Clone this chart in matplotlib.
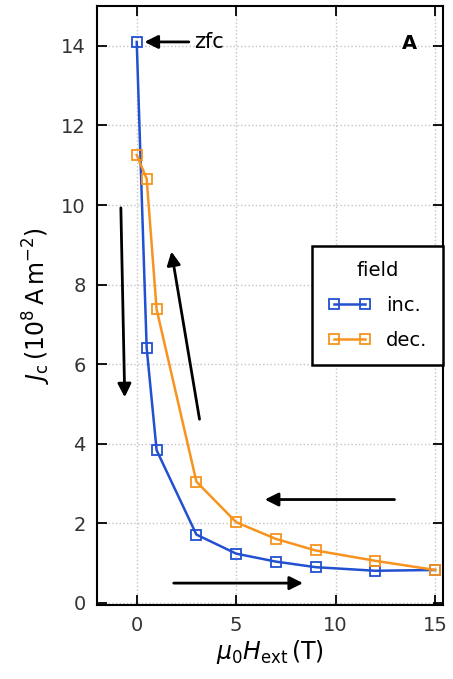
import matplotlib
matplotlib.use("Agg")
import matplotlib.pyplot as plt

# field values (T)
field_inc = [0, 0.5, 1, 3, 5, 7, 9, 12, 15]
jc_inc = [14.1, 6.41, 3.84, 1.72, 1.24, 1.04, 0.90, 0.81, 0.83]
field_dec = [15, 12, 9, 7, 5, 3, 1, 0.5, 0]
jc_dec = [0.83, 1.06, 1.32, 1.61, 2.03, 3.05, 7.38, 10.66, 11.26]

blue = '#2150d0'
orange = '#f7931e'

plt.rcParams['font.family'] = ['DejaVu Sans']
plt.rcParams['mathtext.fontset'] = 'dejavusans'

fig = plt.figure(figsize=(4.53, 6.79), dpi=100)
ax = fig.add_axes([0.214, 0.109, 0.764, 0.882])

ax.plot(field_inc, jc_inc, color=blue, lw=1.8, marker='s', ms=7,
        mfc='none', mec=blue, mew=1.3, label='inc.')
ax.plot(field_dec, jc_dec, color=orange, lw=1.8, marker='s', ms=7,
        mfc='none', mec=orange, mew=1.3, label='dec.')

ax.set_xlim(-2, 15.4)
ax.set_ylim(-0.05, 15)
ax.set_xticks([0, 5, 10, 15])
ax.set_yticks(range(0, 15, 2))
ax.grid(True, ls=':', color='#c4c4c4', lw=1)
ax.tick_params(direction='in', length=7, width=1.3, top=True, right=True,
               labelsize=14, labelcolor='#333333', pad=8)
for s in ax.spines.values():
    s.set_linewidth(1.5)

ax.set_xlabel(r'$\mu_0 H_{\rm ext}\,(\mathrm{T})$', fontsize=17, labelpad=2)
ax.set_ylabel(r'$J_{\rm c}\,(10^8\,\mathrm{A\,m^{-2}})$', fontsize=17, labelpad=6)

# direction arrows
arw = dict(arrowstyle='-|>', color='black', lw=2, mutation_scale=20)
ax.annotate('', xy=(-0.6, 5.1), xytext=(-0.8, 10.0), arrowprops=arw)
ax.annotate('', xy=(1.72, 8.9), xytext=(3.18, 4.55), arrowprops=arw)
ax.annotate('', xy=(6.3, 2.6), xytext=(13.1, 2.6), arrowprops=arw)
ax.annotate('', xy=(8.5, 0.5), xytext=(1.72, 0.5), arrowprops=arw)
ax.annotate('zfc', xy=(0.25, 14.1), xytext=(2.9, 14.1), fontsize=15,
            va='center', ha='left', arrowprops=arw)

ax.text(13.7, 14.05, 'A', fontsize=14, fontweight='bold', ha='center', va='center')

leg = ax.legend(title='field', loc='center right', bbox_to_anchor=(1.0, 0.50),
                borderaxespad=0, numpoints=2, fontsize=14, title_fontsize=14,
                fancybox=False, framealpha=1, edgecolor='black',
                handlelength=2.2, borderpad=0.8, labelspacing=0.8)
leg.get_frame().set_linewidth(1.8)

fig.savefig('out.png', dpi=100)
